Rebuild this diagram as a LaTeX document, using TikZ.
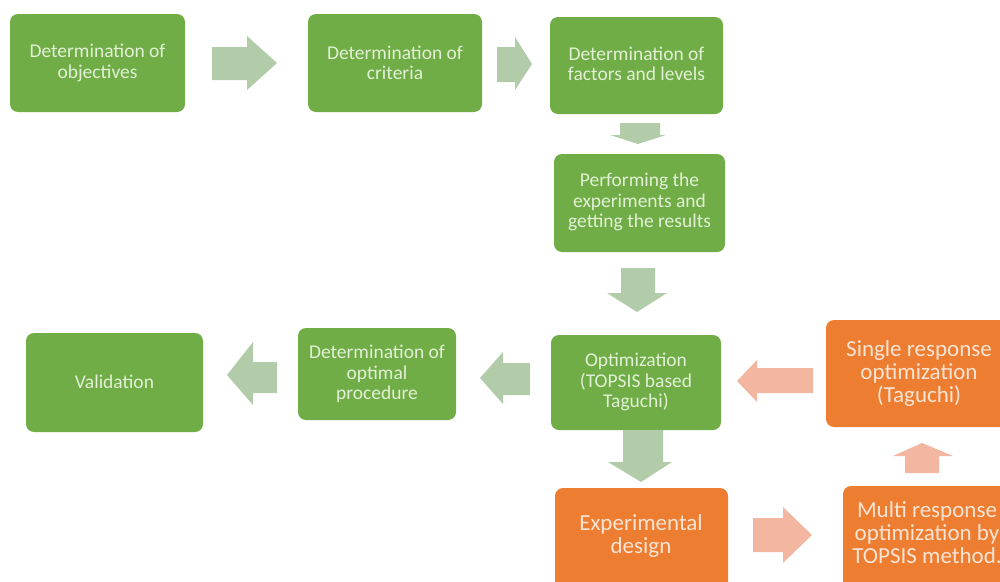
\documentclass[tikz,border=0pt]{standalone}
\usepackage{fontspec}
\setmainfont{Carlito}
\definecolor{gbox}{HTML}{70AD47}
\definecolor{obox}{HTML}{ED7D31}
\definecolor{gtext}{HTML}{E2F0D6}
\definecolor{otext}{HTML}{FCE4D4}
\definecolor{garr}{HTML}{B2CCAA}
\definecolor{oarr}{HTML}{F3B6A0}
\begin{document}
\begin{tikzpicture}[x=1pt,y=-1pt,
  gstep/.style={fill=gbox,rounded corners=8pt,text=gtext,font=\fontsize{19.5}{20.5}\selectfont,align=center},
  ostep/.style={fill=obox,rounded corners=8pt,text=otext,font=\fontsize{23}{23}\selectfont,align=center},
  garrow/.style={fill=garr},
  oarrow/.style={fill=oarr}]
\path[use as bounding box] (0,0) rectangle (1000,581);
\clip (0,0) rectangle (1000,581);
% boxes
\path[gstep] (10,14) rectangle (185,112);
\node[gstep,fill=none] (b1) at (97.5,63) {Determination of\\objectives};
\path[gstep] (308,14) rectangle (482,112);
\node[gstep,fill=none] (b2) at (395,63) {Determination of\\criteria};
\path[gstep] (550,17) rectangle (723,114);
\node[gstep,fill=none] (b3) at (636.5,64) {Determination of\\factors and levels};
\path[gstep] (554,154) rectangle (725,252);
\node[gstep,fill=none] (b4) at (639.5,202) {Performing the\\experiments and\\getting the results};
\path[gstep] (551,335) rectangle (721,430);
\node[gstep,fill=none] (b5) at (636,382) {Optimization\\(TOPSIS based\\Taguchi)};
\path[gstep] (298,328) rectangle (456,420);
\node[gstep,fill=none] (b6) at (377,374) {Determination of\\optimal\\procedure};
\path[gstep] (26,333) rectangle (203,432);
\node[gstep,fill=none] (b7) at (114.5,382) {Validation};
\path[ostep] (826,320) rectangle (1012,427);
\node[ostep,fill=none] (b8) at (919,373) {Single response\\optimization\\(Taguchi)};
\path[ostep] (555,488) rectangle (728,590);
\node[ostep,fill=none] (b9) at (641,536) {Experimental\\design};
\path[ostep] (843,486) rectangle (1008,590);
\node[ostep,fill=none] (b10) at (927,533) {Multi response\\optimization by\\TOPSIS method.};
% block arrows
\fill[garrow] (212,47) -- (247,47) -- (247,36) -- (277,63) -- (247,90) -- (247,80) -- (212,80) -- cycle;
\fill[garrow] (497,47) -- (515,47) -- (515,37) -- (532,64) -- (515,90) -- (515,82) -- (497,82) -- cycle;
\fill[garrow] (620,123) -- (660,123) -- (660,135) -- (666,135) -- (638,144) -- (610,135) -- (620,135) -- cycle;
\fill[garrow] (621,268) -- (655,268) -- (655,293) -- (667,293) -- (637,312) -- (607,293) -- (621,293) -- cycle;
\fill[garrow] (530,363) -- (503,363) -- (503,352) -- (480,378) -- (503,404) -- (503,395) -- (530,395) -- cycle;
\fill[garrow] (277,362) -- (253,362) -- (253,342) -- (227,375) -- (253,405) -- (253,393) -- (277,393) -- cycle;
\fill[oarrow] (813,368) -- (757,368) -- (757,360) -- (737,381) -- (757,402) -- (757,393) -- (813,393) -- cycle;
\fill[garrow] (623,430) -- (663,430) -- (663,462) -- (672,462) -- (641,482) -- (608,462) -- (623,462) -- cycle;
\fill[oarrow] (753,518) -- (783,518) -- (783,507) -- (812,535) -- (783,563) -- (783,552) -- (753,552) -- cycle;
\fill[oarrow] (905,473) -- (905,456) -- (893,456) -- (922,443) -- (953,456) -- (939,456) -- (939,473) -- cycle;
\end{tikzpicture}
\end{document}
